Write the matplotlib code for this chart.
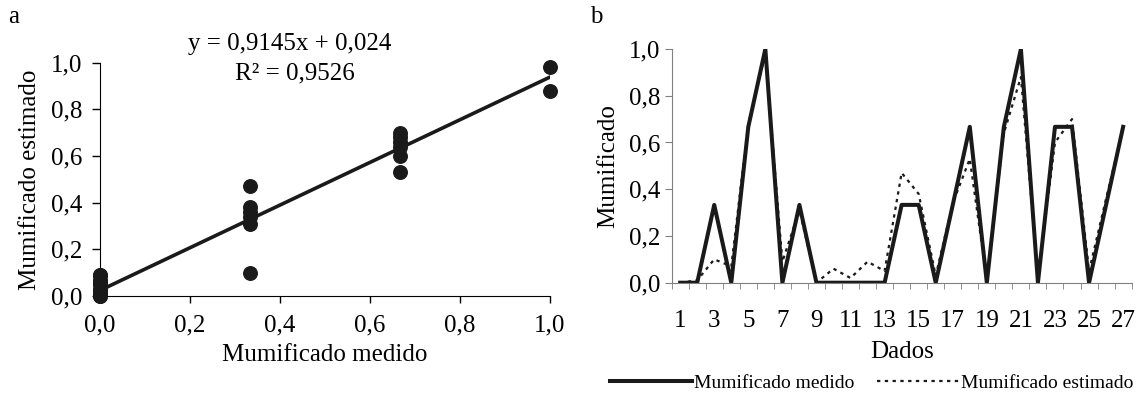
import numpy as np
import matplotlib.pyplot as plt
from matplotlib.ticker import FuncFormatter

plt.rcParams['font.family'] = ['Liberation Serif', 'DejaVu Serif']
plt.rcParams['font.size'] = 18

# data
dados = np.arange(1, 28)
medido = [0, 0, 0.333, 0, 0.667, 1.0, 0, 0.333, 0, 0, 0, 0, 0, 0.333, 0.333,
          0, 0.333, 0.667, 0, 0.667, 1.0, 0, 0.667, 0.667, 0, 0.333, 0.667]
estimado = [0.0, 0.01, 0.10, 0.07, 0.68, 0.98, 0.09, 0.31, 0.0, 0.06, 0.02, 0.09,
            0.05, 0.47, 0.38, 0.03, 0.34, 0.53, 0.01, 0.64, 0.88, 0.02, 0.60, 0.70,
            0.05, 0.36, 0.66]
slope = 0.9145
intercept = 0.024
eq_text = "y = 0,9145x + 0,024"
r2_text = "R² = 0,9526"

comma = FuncFormatter(lambda v, p: ("%.1f" % v).replace(".", ","))

fig = plt.figure(figsize=(11.44, 3.95), dpi=100)

# panel a
ax1 = fig.add_axes([0.0874, 0.2506, 0.3934, 0.5907])
ax1.scatter(medido, estimado, s=95, color="#1a1a1a", zorder=3, clip_on=False)
xl = np.array([0, 1])
ax1.plot(xl, slope * xl + intercept, color="#1a1a1a", lw=2.6, zorder=2)
ax1.set_xlim(0, 1)
ax1.set_ylim(0, 1)
ax1.set_xticks(np.arange(0, 1.01, 0.2))
ax1.set_yticks(np.arange(0, 1.01, 0.2))
ax1.xaxis.set_major_formatter(comma)
ax1.yaxis.set_major_formatter(comma)
ax1.tick_params(axis="x", direction="out", length=5, width=1, pad=8)
ax1.tick_params(axis="y", direction="out", length=6, width=1, pad=7)
for s in ["top", "right"]:
    ax1.spines[s].set_visible(False)
ax1.set_xlabel("Mumificado medido", labelpad=6)
ax1.set_ylabel("Mumificado estimado", labelpad=7)
ax1.text(0.422, 1.08, eq_text, transform=ax1.transAxes, ha="center", va="center")
ax1.text(0.433, 0.952, r2_text, transform=ax1.transAxes, ha="center", va="center")
fig.text(0.007, 0.985, "a", va="top")

# panel b
gray = "#808080"
ax2 = fig.add_axes([0.5871, 0.2843, 0.4021, 0.5916])
ax2.plot(dados, estimado, color="#1a1a1a", lw=1.6, linestyle=(0, (1.5, 2)),
         label="Mumificado estimado")
ax2.plot(dados, medido, color="#1a1a1a", lw=2.9, label="Mumificado medido")
ax2.set_xlim(0.5, 27.5)
ax2.set_ylim(0, 1)
ax2.set_xticks(dados[::2])
ax2.set_xticks(np.arange(0.5, 27.6, 1), minor=True)
ax2.tick_params(axis="x", which="major", length=0, pad=20)
ax2.tick_params(axis="x", which="minor", length=4, color=gray, direction="out")
ax2.set_yticks(np.arange(0, 1.01, 0.2))
ax2.yaxis.set_major_formatter(comma)
ax2.tick_params(axis="y", length=5, color=gray, direction="out", pad=3)
for s in ["top", "right"]:
    ax2.spines[s].set_visible(False)
for s in ["left", "bottom"]:
    ax2.spines[s].set_color(gray)
ax2.set_xlabel("Dados", labelpad=6)
ax2.set_ylabel("Mumificado", labelpad=7)
fig.text(0.516, 0.985, "b", va="top")

h, l = ax2.get_legend_handles_labels()
fig.legend(h[::-1], l[::-1], loc="center", bbox_to_anchor=(0.762, 0.03), ncol=2,
           frameon=False, fontsize=14, handlelength=4.2, handletextpad=0.1,
           columnspacing=1.2, borderpad=0)

fig.savefig("out.png", dpi=100)
